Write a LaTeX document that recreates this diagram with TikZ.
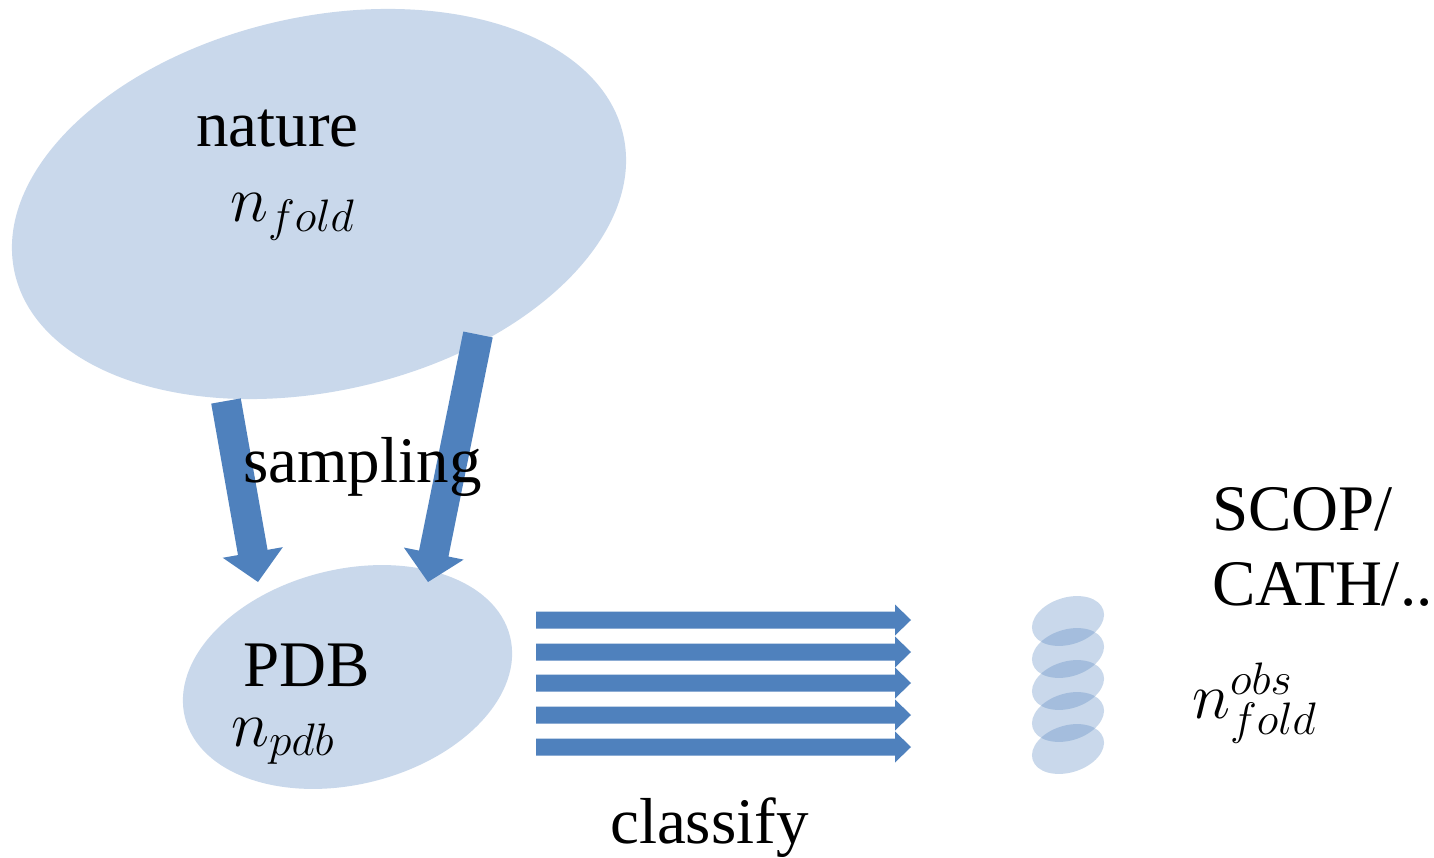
\RequirePackage{fix-cm}
\documentclass[tikz,border=0pt]{standalone}
\usepackage{fontspec}
\setmainfont{Liberation Serif}
\usetikzlibrary{calc,shapes.geometric}
\definecolor{ellfill}{HTML}{C9D8EB}
\definecolor{arrowblue}{HTML}{4F81BD}
% block arrow: start, tip, shaft width, head width, head length
\newcommand\blockarrow[5]{%
  \coordinate (hb) at ($(#2)!#5!(#1)$);
  \fill[arrowblue] ($(#1)!{0.5*#3}!90:(#2)$) -- ($(hb)!{0.5*#3}!90:(#2)$)
    -- ($(hb)!{0.5*#4}!90:(#2)$) -- (#2) -- ($(hb)!{0.5*#4}!-90:(#2)$)
    -- ($(hb)!{0.5*#3}!-90:(#2)$) -- ($(#1)!{0.5*#3}!-90:(#2)$) -- cycle;%
}
\begin{document}
\begin{tikzpicture}[x=1pt,y=-1pt,
  bigell/.style={ellipse, fill=ellfill, inner sep=0pt},
  smallell/.style={ellipse, fill=arrowblue, fill opacity=0.3, inner sep=0pt,
    minimum width=74pt, minimum height=47pt, rotate=17},
  lbl/.style={anchor=base west, inner sep=0pt, font=\fontsize{65}{78}\selectfont}]
\useasboundingbox (0,0) rectangle (1434,858);
\fill[white] (0,0) rectangle (1434,858);

\node[bigell, minimum width=624pt, minimum height=374pt, rotate=12.8] (nature) at (319,204) {};
\node[bigell, minimum width=335pt, minimum height=215pt, rotate=14] (pdb) at (347.5,677) {};

\foreach \i/\y in {1/621,2/653,3/685,4/717,5/749}{
  \node[smallell] (f\i) at (1068,\y) {};
}

% sampling arrows
\coordinate (s1) at (226,401); \coordinate (t1) at (258,582);
\coordinate (s2) at (478,334.5); \coordinate (t2) at (428,582);
\blockarrow{s1}{t1}{30pt}{61pt}{30pt}
\blockarrow{s2}{t2}{30pt}{61pt}{29pt}

% classify arrows
\foreach \i/\y in {1/620,2/652,3/683,4/715,5/747}{
  \coordinate (cs\i) at (536,\y); \coordinate (ct\i) at (911,\y);
  \blockarrow{cs\i}{ct\i}{17pt}{31pt}{16pt}
}

\node[lbl] (tnature) at (196,147) {nature};
\node[lbl] (tnfold) at (230,222) {$n_{fold}$};
\node[lbl] (tpdb) at (243,686) {PDB};
\node[lbl] (tnpdb) at (231,746) {$n_{pdb}$};
\node[lbl] (tsampling) at (243,482) {sampling};
\node[lbl] (tclassify) at (610,843) {classify};
\node[lbl] (tscop) at (1212,530) {SCOP/};
\node[lbl] (tcath) at (1212,605) {CATH/..};
\node[lbl] (tnobs) at (1192,718) {$n_{fold}^{obs}$};
\end{tikzpicture}
\end{document}
